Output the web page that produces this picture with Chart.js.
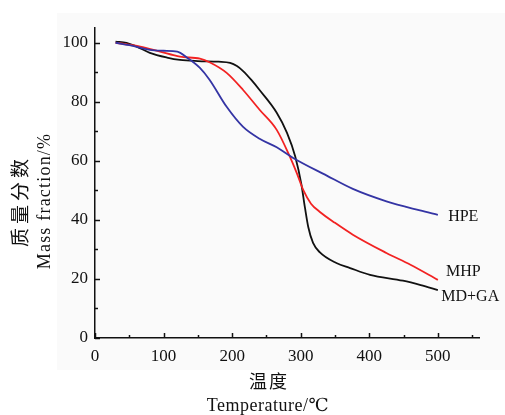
<!DOCTYPE html>
<html>
<head>
<meta charset="utf-8">
<script src="https://cdn.jsdelivr.net/npm/chart.js@4"></script>
<style>
  html, body { margin: 0; padding: 0; background: #fff; }
  #wrap { width: 505px; height: 415px; }
</style>
</head>
<body>
<div id="wrap"><canvas id="tga"></canvas></div>
<script>
// TG curves (temperature in °C, mass fraction in %)
const hpeTemp = [30, 50, 80, 100, 120, 134, 153, 167, 192, 216, 240, 265, 289, 338, 376, 425, 474, 500];
const hpeMass = [100, 99.2, 97.6, 97.3, 97, 95, 91.5, 87.5, 78.3, 71.5, 67.5, 64.6, 61, 55, 50.5, 46.3, 43.2, 41.7];

const mhpTemp = [30, 45, 66, 95, 124, 153, 167, 192, 216, 240, 265, 284, 294, 304, 315, 328, 350, 376, 425, 460, 500];
const mhpMass = [100, 99.5, 98.7, 97, 95.3, 94.6, 93.4, 89.8, 84, 77.3, 70.5, 61.5, 56, 50, 45.5, 42.7, 39, 35, 28.8, 24.8, 19.7];

const mdgaTemp = [30, 46, 60, 80, 105, 124, 150, 180, 197, 207, 216, 228, 240, 265, 280, 292, 301, 306, 311, 318, 328, 352, 372, 401, 449, 475, 500];
const mdgaMass = [100.4, 100, 98.8, 96.6, 95, 94.2, 93.8, 93.6, 93.2, 92.1, 90.4, 87.4, 84, 76.3, 69.5, 61.5, 52, 44.4, 37.6, 32.2, 29, 25.4, 23.7, 21.4, 19.4, 17.9, 16.2];

const seriesNames = ['HPE', 'MHP', 'MD+GA'];
const seriesColors = ['#3434a4', '#f22222', '#111111'];
// where each curve name sits, in data units (temperature, mass)
const labelAt = [[515, 41], [512, 22.5], [505, 14]];

const xTicks = [0, 50, 100, 150, 200, 250, 300, 350, 400, 450, 500, 550];
const yTicks = [0, 10, 20, 30, 40, 50, 60, 70, 80, 90, 100];

const xTitle = ['温度', 'Temperature/℃'];
const yTitle = ['质量分数', 'Mass fraction/%'];

const serif = '"Liberation Serif", "DejaVu Serif", serif';
const cjk = '"Noto Sans CJK SC", sans-serif';

function toPoints(xs, ys) {
  return xs.map((x, i) => ({ x: x, y: ys[i] }));
}

const panelBg = {
  id: 'panelBg',
  beforeDraw(chart) {
    const ctx = chart.ctx;
    ctx.save();
    ctx.fillStyle = '#fafafa';
    ctx.fillRect(57, 13, 448, 357);
    ctx.restore();
  }
};

// inward ticks, curve names and the two-language axis titles
const decorations = {
  id: 'decorations',
  afterDraw(chart) {
    const ctx = chart.ctx;
    const xs = chart.scales.x, ys = chart.scales.y;
    const x0 = xs.getPixelForValue(0), y0 = ys.getPixelForValue(0);
    ctx.save();
    ctx.strokeStyle = '#111';
    ctx.lineWidth = 1.5;
    xTicks.forEach(v => {
      const px = Math.round(xs.getPixelForValue(v)) + 0.5;
      const len = v % 100 === 0 ? 5 : 3;
      ctx.beginPath(); ctx.moveTo(px, y0); ctx.lineTo(px, y0 - len); ctx.stroke();
    });
    yTicks.forEach(v => {
      const py = Math.round(ys.getPixelForValue(v)) + 0.5;
      const len = v % 20 === 0 ? 5 : 3;
      ctx.beginPath(); ctx.moveTo(x0, py); ctx.lineTo(x0 + len, py); ctx.stroke();
    });

    ctx.fillStyle = '#111';
    ctx.textBaseline = 'middle';
    ctx.textAlign = 'left';
    ctx.font = '16px ' + serif;
    seriesNames.forEach((name, i) => {
      ctx.fillText(name, xs.getPixelForValue(labelAt[i][0]), ys.getPixelForValue(labelAt[i][1]));
    });

    ctx.textAlign = 'center';
    ctx.font = '18px ' + cjk;
    ctx.letterSpacing = '2px';
    ctx.fillText(xTitle[0], 269, 381);
    ctx.letterSpacing = '0.5px';
    ctx.font = '18px ' + serif;
    ctx.fillText(xTitle[1], 268, 406);

    ctx.save();
    ctx.translate(20, 201);
    ctx.rotate(-Math.PI / 2);
    ctx.font = '19px ' + cjk;
    ctx.letterSpacing = '4px';
    ctx.fillText(yTitle[0], 0, 0);
    ctx.restore();
    ctx.save();
    ctx.translate(45, 201);
    ctx.rotate(-Math.PI / 2);
    ctx.font = '18px ' + serif;
    ctx.letterSpacing = '1.2px';
    ctx.fillText(yTitle[1], 0, 0);
    ctx.restore();
    ctx.restore();
  }
};

const datasets = [
  toPoints(hpeTemp, hpeMass),
  toPoints(mhpTemp, mhpMass),
  toPoints(mdgaTemp, mdgaMass)
].map((pts, i) => ({
  label: seriesNames[i],
  data: pts,
  borderColor: seriesColors[i],
  borderWidth: 1.8,
  pointRadius: 0,
  fill: false,
  showLine: true,
  cubicInterpolationMode: 'monotone'
}));

new Chart(document.getElementById('tga'), {
  type: 'scatter',
  data: { datasets: datasets },
  options: {
    responsive: true,
    maintainAspectRatio: false,
    animation: false,
    layout: { padding: { left: 0, top: 28, right: 26, bottom: 0 } },
    plugins: { legend: { display: false }, tooltip: { enabled: false } },
    scales: {
      x: {
        type: 'linear',
        min: 0,
        max: 560,
        afterBuildTicks: s => { s.ticks = xTicks.map(v => ({ value: v })); },
        afterFit: s => { s.height = 77; },
        grid: { display: false, drawTicks: false },
        border: { display: true, color: '#111', width: 1.5 },
        ticks: {
          padding: 8,
          color: '#111',
          font: { family: serif, size: 17 },
          maxRotation: 0,
          autoSkip: false,
          callback: v => (v % 100 === 0 ? v : '')
        }
      },
      y: {
        type: 'linear',
        min: 0,
        max: 105,
        afterBuildTicks: s => { s.ticks = yTicks.map(v => ({ value: v })); },
        afterFit: s => { s.width = 95; },
        grid: { display: false, drawTicks: false },
        border: { display: true, color: '#111', width: 1.5 },
        ticks: {
          padding: 7,
          color: '#111',
          font: { family: serif, size: 17 },
          autoSkip: false,
          callback: v => (v % 20 === 0 ? v : '')
        }
      }
    }
  },
  plugins: [panelBg, decorations]
});
</script>
</body>
</html>
